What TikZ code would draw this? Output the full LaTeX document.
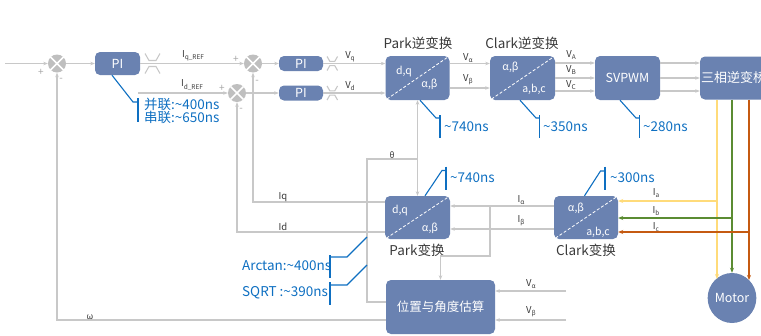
\documentclass[tikz,border=0pt]{standalone}
\usepackage{fontspec}
\setmainfont{Noto Sans CJK SC}
\usetikzlibrary{arrows.meta,shapes.geometric,calc}
\definecolor{boxblue}{HTML}{6A82B1}
\definecolor{linegray}{HTML}{C8C8C8}
\definecolor{sumgray}{HTML}{BFBFBF}
\definecolor{callblue}{HTML}{0E6FC1}
\definecolor{txtgray}{HTML}{3A3A3A}
\definecolor{signgray}{HTML}{A6A6A6}
\definecolor{phA}{HTML}{FFDB7A}
\definecolor{phB}{HTML}{5B8C32}
\definecolor{phC}{HTML}{C55A11}
\newcommand\lsub[1]{\raisebox{-0.45ex}{\fontsize{6.5}{7}\selectfont #1}}
\begin{document}
\begin{tikzpicture}[x=1pt,y=-1pt,
 blk/.style={rectangle, rounded corners=5pt, fill=boxblue, text=white, inner sep=0pt, font=\fontsize{12.5}{14}\selectfont},
 sumnode/.style={circle, fill=sumgray, minimum size=18pt, inner sep=0pt},
 conn/.style={draw=linegray, line width=1.1pt, -{Stealth[length=4.5pt,width=3.5pt]}},
 wire/.style={draw=linegray, line width=1.1pt},
 pconn/.style={line width=1.4pt, -{Stealth[length=5pt,width=4pt]}},
 lbl/.style={text=txtgray, font=\fontsize{9.5}{11}\selectfont, inner sep=0pt},
 signlbl/.style={text=signgray, font=\fontsize{10}{10}\selectfont, inner sep=0pt},
 ttl/.style={text=txtgray, font=\fontsize{13.5}{15}\selectfont, inner sep=0pt},
 notelbl/.style={text=callblue, font=\fontsize{13.5}{15}\selectfont, inner sep=0pt, anchor=west},
 cline/.style={draw=callblue, line width=1.1pt},
 innerlbl/.style={text=white, font=\fontsize{10.5}{12}\selectfont, inner sep=0pt},
 diag/.style={draw=white, dashed, dash pattern=on 3pt off 2pt, line width=0.8pt, shorten <=2pt, shorten >=2pt},
 satsym/.pic={\draw[wire] (-7.5,-10)--(-3.5,-3)--(3.5,-3)--(7.5,-10);
               \draw[wire] (-7.5,10)--(-3.5,3)--(3.5,3)--(7.5,10);},
]
\useasboundingbox (0,0) rectangle (761,335);

% summing junctions
\node[sumnode] (s1) at (57,63.5) {};
\node[sumnode] (s2) at (253,63.5) {};
\node[sumnode] (s3) at (237,93) {};
\foreach \s in {s1,s2,s3}{\draw[white,line width=1.6pt] (\s.north west)--(\s.south east) (\s.north east)--(\s.south west);}
\node[signlbl] at (41,72) {+};
\node[signlbl] at (61,80) {-};
\node[signlbl] at (236,59) {+};
\node[signlbl] at (257,82) {-};
\node[signlbl] at (222,88) {+};
\node[signlbl] at (241,110) {-};

% blocks
\node[blk, minimum width=45pt, minimum height=23pt] (pi1) at (117.5,63.5) {PI};
\node[blk, minimum width=44pt, minimum height=15pt] (pi2) at (301,63.5) {PI};
\node[blk, minimum width=44pt, minimum height=15pt] (pi3) at (301,93) {PI};
\node[blk, minimum width=64pt, minimum height=44pt] (pinv) at (417.5,78) {};
\node[blk, minimum width=65pt, minimum height=44pt] (cinv) at (522.5,78) {};
\node[blk, minimum width=65pt, minimum height=44pt] (svp) at (627.5,78) {SVPWM};
\node[blk, minimum width=70pt, minimum height=43pt, text width=68pt, align=left, font=\fontsize{13}{15}\selectfont] (inv) at (735,78) {三相逆变桥};
\node[blk, minimum width=65pt, minimum height=43pt] (park) at (417.5,217.5) {};
\node[blk, minimum width=64pt, minimum height=43pt] (clk) at (586,217.5) {};
\node[blk, minimum width=109pt, minimum height=54pt] (pos) at (440.5,307) {位置与角度估算};
\node[blk, ellipse, minimum width=44pt, minimum height=50pt] (mot) at (732,298) {Motor};

% diagonals and inner labels
\draw[diag] (pinv.south west) -- (pinv.north east);
\draw[diag] (cinv.south west) -- (cinv.north east);
\draw[diag] (park.south west) -- (park.north east);
\draw[diag] (clk.south west) -- (clk.north east);
\node[innerlbl] at ($(pinv.center)+(-13.5,-6.5)$) {d,q};
\node[innerlbl] at ($(pinv.center)+(12,6)$) {α,β};
\node[innerlbl] at ($(cinv.center)+(-12,-11)$) {α,β};
\node[innerlbl] at ($(cinv.center)+(11.5,11)$) {a,b,c};
\node[innerlbl] at ($(park.center)+(-17.5,-7)$) {d,q};
\node[innerlbl] at ($(park.center)+(12.5,10.5)$) {α,β};
\node[innerlbl] at ($(clk.center)+(-10,-9.5)$) {α,β};
\node[innerlbl] at ($(clk.center)+(12,14.5)$) {a,b,c};

% titles
\node[ttl] at (418,43) {Park逆变换};
\node[ttl] at (522,43) {Clark逆变换};
\node[ttl] at (417,250) {Park变换};
\node[ttl] at (586,250) {Clark变换};

% forward path
\coordinate (in) at (5,63.5);
\draw[conn] (in) -- (s1);
\draw[conn] (s1) -- (pi1);
\draw[conn] (pi1) -- (s2);
\pic at (152.5,63.5) {satsym};
\node[lbl] at (193,56) {I\lsub{q\_REF}};
\coordinate (idr) at (138,93);
\draw[conn] (idr) -- (s3);
\node[lbl] at (192,85) {I\lsub{d\_REF}};
\draw[conn] (s2) -- (pi2);
\draw[conn] (s3) -- (pi3);
\draw[conn] (pi2) -- (pi2 -| pinv.west);
\draw[conn] (pi3) -- (pi3 -| pinv.west);
\pic[scale=0.7] at (332.3,63.5) {satsym};
\pic[scale=0.7] at (332.3,93) {satsym};
\node[lbl] at (350,57) {V\lsub{q}};
\node[lbl] at (350,86) {V\lsub{d}};
\draw[conn] ($(pinv.east)+(0,-14.5)$) -- ($(cinv.west)+(0,-14.5)$);
\draw[conn] ($(pinv.east)+(0,10)$) -- ($(cinv.west)+(0,10)$);
\node[lbl] at (468,58) {V\lsub{α}};
\node[lbl] at (468,80) {V\lsub{β}};
\foreach \d in {-15,0,13}{
  \draw[conn] ($(cinv.east)+(0,\d)$) -- ($(svp.west)+(0,\d)$);
  \draw[conn] ($(svp.east)+(0,\d)$) -- ($(inv.west)+(0,\d)$);
}
\node[lbl] at (571,55) {V\lsub{A}};
\node[lbl] at (571,70) {V\lsub{B}};
\node[lbl] at (571,85) {V\lsub{C}};

% phase lines to motor
\coordinate (ya) at (717,99.5);
\coordinate (gb) at (732,99.5);
\coordinate (oc) at (749,99.5);
\coordinate (ye) at (717,279);
\coordinate (oe) at (749,280);
\draw[pconn, phA] (ya) -- (ye);
\draw[pconn, phB] (gb) -- (mot.north);
\draw[pconn, phC] (oc) -- (oe);
\coordinate (ja) at (717,201);
\coordinate (jb) at (732,218);
\coordinate (jc) at (749,232);
\draw[pconn, phA, line width=1.2pt] (ja) -- (ja -| clk.east);
\draw[pconn, phB, line width=1.2pt] (jb) -- (jb -| clk.east);
\draw[pconn, phC, line width=1.2pt] (jc) -- (jc -| clk.east);
\node[lbl] at (656,193) {I\lsub{a}};
\node[lbl] at (656,211) {I\lsub{b}};
\node[lbl] at (656,227) {I\lsub{c}};

% Clark -> Park
\draw[conn] ($(clk.west)+(0,-11.5)$) -- ($(park.east)+(0,-11.5)$);
\draw[conn] ($(clk.west)+(0,11.5)$) -- ($(park.east)+(0,11.5)$);
\node[lbl] at (521,200) {I\lsub{α}};
\node[lbl] at (521,221) {I\lsub{β}};
\coordinate (br) at (490,206);
\draw[conn] (br) -- (490,256) -- (440.5,256) -- (pos.north);

% Park feedback
\draw[conn] ($(park.west)+(0,-15.5)$) -| (s2.south);
\draw[conn] ($(park.west)+(0,14.5)$) -| (s3.south);
\node[lbl] at (283,197) {Iq};
\node[lbl] at (283,227) {Id};

% theta
\coordinate (th) at (417.5,159);
\draw[wire] ($(pos.west)+(0,-5)$) -- (367,302) -- (367,159) -- (th);
\draw[conn] (th) -- (pinv.south);
\draw[conn] (th) -- (park.north);
\node[lbl, font=\fontsize{8.5}{10}\selectfont] at (392,155) {θ};

% omega
\draw[conn] ($(pos.west)+(0,13)$) -| (s1.south);
\node[lbl, font=\fontsize{8.5}{10}\selectfont] at (90,317) {ω};

% estimator inputs
\coordinate (va) at (566,291);
\coordinate (vb) at (566,320);
\draw[conn] (va) -- (va -| pos.east);
\draw[conn] (vb) -- (vb -| pos.east);
\node[lbl] at (531,284) {V\lsub{α}};
\node[lbl] at (531,312) {V\lsub{β}};

% callouts
\draw[cline] ($(pi1.south)+(-5.5,0)$) -- (133,102) -- (138,102);
\draw[cline] (138,98) -- (138,122);
\node[notelbl] at (144,104) {并联:\char"7E 400ns};
\node[notelbl] at (144,117) {串联:\char"7E 650ns};

\draw[cline] ($(pinv.south)+(2.5,0)$) -- (436,118) -- (440,118);
\draw[cline] (440,115) -- (440,138);
\node[notelbl] at (444,127) {\char"7E 740ns};

\draw[cline] ($(cinv.south)+(-2.5,0)$) -- (536,118) -- (539.5,118);
\draw[cline] (539.5,115) -- (539.5,138);
\node[notelbl] at (543,127) {\char"7E 350ns};

\draw[cline] ($(svp.south)+(-7.5,0)$) -- (636,118) -- (639.5,118);
\draw[cline] (639.5,115) -- (639.5,138);
\node[notelbl] at (643,127) {\char"7E 280ns};

\draw[cline] ($(park.north)+(7.5,0)$) -- (442,170.5) -- (446,170.5);
\draw[cline] (446,166.5) -- (446,190);
\node[notelbl] at (450,178) {\char"7E 740ns};

\draw[cline] ($(clk.north)+(-1.5,0)$) -- (600.5,171) -- (605,171);
\draw[cline] (605,166.5) -- (605,190);
\node[notelbl] at (610,178) {\char"7E 300ns};

\coordinate (ca) at (367,237);
\coordinate (cb) at (367,265);
\draw[cline] (ca) -- (347,257) -- (330,257);
\draw[cline] (330,255) -- (330,278);
\draw[cline] (cb) -- (347,285) -- (330,285);
\draw[cline] (330,282) -- (330,305);
\node[notelbl] at (242,266) {Arctan:\char"7E 400ns};
\node[notelbl] at (242,293) {SQRT :\char"7E 390ns};
\end{tikzpicture}
\end{document}
